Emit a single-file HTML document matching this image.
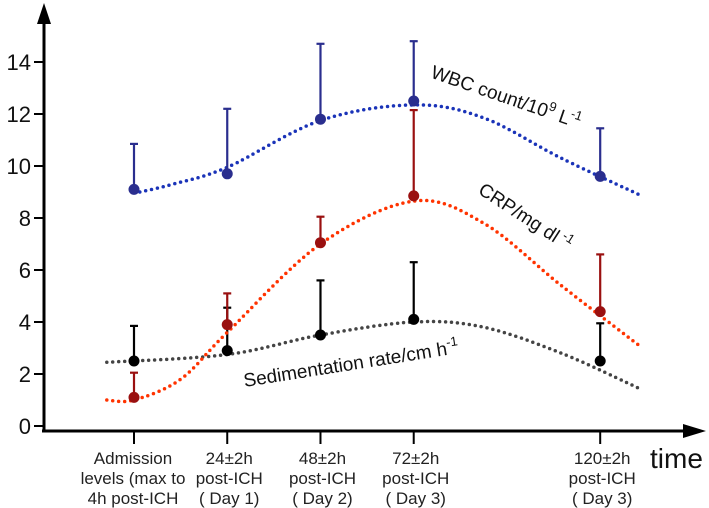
<!DOCTYPE html>
<html><head><meta charset="utf-8"><style>
body{margin:0;background:#fff}
svg{display:block;font-family:"Liberation Sans",Arial,sans-serif}
</style></head><body>
<svg id="c" width="709" height="508" viewBox="0 0 709 508">
<g id="axes"></g>
<g id="series"></g>
<text x="504" y="103" font-size="19" fill="#111" transform="rotate(19 504 103)" text-anchor="middle">WBC count/10<tspan font-size="13" dy="-8">9</tspan><tspan dy="8"> L</tspan><tspan font-size="13" dy="-8">-1</tspan></text>
<text x="522" y="222" font-size="19" fill="#111" transform="rotate(33 522 222)" text-anchor="middle">CRP/mg dl<tspan font-size="13" dy="-8"> -1</tspan></text>
<text x="352" y="370" font-size="19" fill="#111" transform="rotate(-9 352 370)" text-anchor="middle">Sedimentation rate/cm h<tspan font-size="13" dy="-8">-1</tspan></text>
<text x="650" y="468" font-size="28" fill="#111">time</text>
</svg>
<script>
const hours=[0,24,48,72,120];
const catLabels=[["Admission","levels (max to","4h post-ICH"],["24±2h","post-ICH","( Day 1)"],["48±2h","post-ICH","( Day 2)"],["72±2h","post-ICH","( Day 3)"],["120±2h","post-ICH","( Day 3)"]];
const yTicks=[0,2,4,6,8,10,12,14];
const wbcMean=[9.1,9.7,11.8,12.5,9.6];
const wbcUpper=[10.85,12.2,14.7,14.8,11.45];
const crpMean=[1.1,3.9,7.05,8.85,4.4];
const crpUpper=[2.05,5.1,8.05,12.15,6.6];
const esrMean=[2.5,2.9,3.5,4.1,2.5];
const esrUpper=[3.85,4.55,5.6,6.3,3.95];
const wbcTrendH=[1.5,10,24,48,72,90,110,130];
const wbcTrendV=[9.0,9.3,9.95,11.75,12.35,11.85,10.3,8.9];
const crpTrendH=[-7,0,12,24,48,72,90,110,130];
const crpTrendV=[1.0,1.0,1.8,3.6,7.0,8.65,7.8,5.4,3.1];
const esrTrendH=[-7,24,48,72,90,110,130];
const esrTrendV=[2.45,2.75,3.5,4.0,3.8,2.8,1.45];

const X=h=>134+h*3.885;
const Y=v=>426-v*26;
const NS="http://www.w3.org/2000/svg";
function mk(t,a,p){const e=document.createElementNS(NS,t);for(const k in a)e.setAttribute(k,a[k]);p.appendChild(e);return e;}
const ax=document.getElementById('axes'), se=document.getElementById('series');
let l=mk('line',{x1:44,y1:431,x2:44,y2:22,stroke:'#000','stroke-width':3},ax);


let p=mk('polygon',{points:'37,24 51,24 44,3',fill:'#000'},ax);


l=mk('line',{x1:42,y1:431,x2:685,y2:431,stroke:'#000','stroke-width':3},ax);


p=mk('polygon',{points:'683,424 683,438 706,431',fill:'#000'},ax);


yTicks.forEach(v=>{
 const t=mk('line',{x1:34,y1:Y(v),x2:44,y2:Y(v),stroke:'#000','stroke-width':2},ax);
 
 
 const tx=mk('text',{x:31,y:Y(v)+8,'font-size':22,'text-anchor':'end',fill:'#111'},ax);
 tx.textContent=v;
 
 
});
hours.forEach((h,i)=>{
 const t=mk('line',{x1:X(h),y1:431,x2:X(h),y2:444,stroke:'#000','stroke-width':2},ax);
 
 
 catLabels[i].forEach((s,j)=>{
  const tx=mk('text',{x:X(h)+(i==0?-1:2),y:464+j*20,'font-size':17,'text-anchor':'middle',fill:'#222'},ax);
  tx.textContent=s;
  
  
 });
});
function curve(H,V){
 const P=H.map((h,i)=>[X(h),Y(V[i])]);
 let d='M'+P[0][0]+','+P[0][1];
 for(let i=0;i<P.length-1;i++){
  const p0=P[Math.max(0,i-1)],p1=P[i],p2=P[i+1],p3=P[Math.min(P.length-1,i+2)];
  d+=' C'+(p1[0]+(p2[0]-p0[0])/6)+','+(p1[1]+(p2[1]-p0[1])/6)+' '+(p2[0]-(p3[0]-p1[0])/6)+','+(p2[1]-(p3[1]-p1[1])/6)+' '+p2[0]+','+p2[1];
 }
 return d;
}
function series(name,mean,upper,tH,tV,dark,trend){
 const g=mk('g',{},se);
 
 
 const c=mk('path',{d:curve(tH,tV),fill:'none',stroke:trend,'stroke-width':3.5,'stroke-dasharray':'0 6','stroke-linecap':'round'},g);
 
 
 hours.forEach((h,i)=>{
  const e=mk('line',{x1:X(h),y1:Y(mean[i]),x2:X(h),y2:Y(upper[i]),stroke:dark,'stroke-width':2.2},g);
  
  
  const cap=mk('line',{x1:X(h)-4,y1:Y(upper[i]),x2:X(h)+4,y2:Y(upper[i]),stroke:dark,'stroke-width':2.2},g);
  
  
  const pt=mk('circle',{cx:X(h),cy:Y(mean[i]),r:5.5,fill:dark},g);
  
  
 });
}
series('esr',esrMean,esrUpper,esrTrendH,esrTrendV,'#000','#444');
series('crp',crpMean,crpUpper,crpTrendH,crpTrendV,'#9a1010','#ff3300');
series('wbc',wbcMean,wbcUpper,wbcTrendH,wbcTrendV,'#2a2e8e','#1a33b8');
</script>
</body></html>
